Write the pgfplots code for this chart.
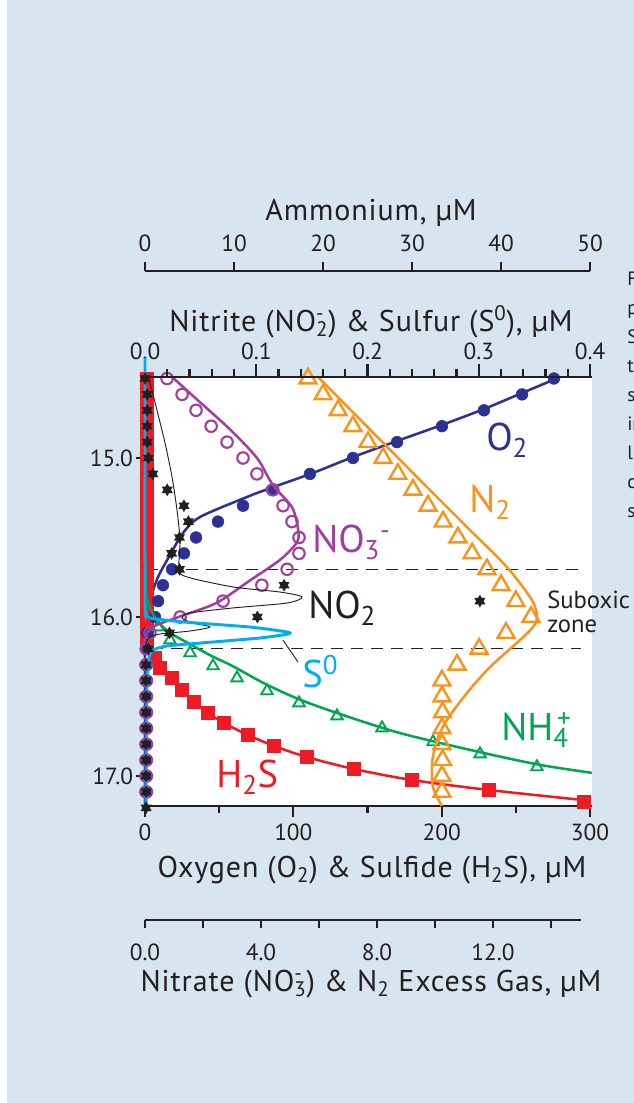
\documentclass[border=0pt]{standalone}
\usepackage{pgfplots}
\pgfplotsset{compat=1.18}
\usepackage{fontspec}
\setmainfont{PT Sans}
\newfontfamily\titlefont[LetterSpace=3]{PT Sans}
\definecolor{bg}{RGB}{215,229,240}
\definecolor{oxy}{RGB}{46,49,146}
\definecolor{nitra}{RGB}{160,64,156}
\definecolor{ntwo}{RGB}{247,148,29}
\definecolor{amm}{RGB}{0,166,81}
\definecolor{sulf}{RGB}{237,28,36}
\definecolor{sulfur}{RGB}{0,174,239}
\definecolor{ink}{RGB}{35,31,32}
\newcommand{\subsup}[2]{\rlap{\textsuperscript{#2}}\textsubscript{#1}}
\pgfdeclareplotmark{hexstar}{%
  \pgfpathmoveto{\pgfpointpolar{90}{\pgfplotmarksize}}%
  \pgfpathlineto{\pgfpointpolar{210}{\pgfplotmarksize}}%
  \pgfpathlineto{\pgfpointpolar{330}{\pgfplotmarksize}}%
  \pgfpathclose
  \pgfpathmoveto{\pgfpointpolar{270}{\pgfplotmarksize}}%
  \pgfpathlineto{\pgfpointpolar{390}{\pgfplotmarksize}}%
  \pgfpathlineto{\pgfpointpolar{510}{\pgfplotmarksize}}%
  \pgfpathclose
  \pgfusepathqfill}
\pgfplotsset{
  panel/.style={scale only axis, width=336.75pt, height=321.75pt,
    at={(107.25pt,-604.5pt)}, anchor=south west,
    ymin=-17.1887, ymax=-14.4906, y filter/.expression={-y}},
  ticklab/.style={tick label style={font=\fontsize{17.5}{20}\selectfont, text=ink},
    /pgf/number format/assume math mode=true},
}
\begin{document}
\begin{tikzpicture}
\begin{scope}[x=0.75pt,y=-0.75pt]
\useasboundingbox (0,0) rectangle (634,1103);
\fill[bg] (0,0) rectangle (634,1103);
\fill[white] (0,0) rectangle (7,1103);
\end{scope}

% ---------- main axis: oxygen & sulfide ----------
\begin{axis}[panel, ticklab,
  xmin=-1.348, xmax=301.35,
  axis background/.style={fill=white},
  axis x line*=bottom, axis y line*=left,
  x axis line style={line width=2.2pt, draw=ink},
  y axis line style={draw=none},
  xtick={0,100,200,300}, minor xtick={50,150,250},
  ytick={-17,-16,-15}, yticklabels={17.0,16.0,15.0},
  tick align=outside,
  major tick length=8pt, minor tick length=5pt,
  xtick style={line width=1.6pt, draw=ink},
  ytick style={line width=1.1pt, draw=ink, /pgfplots/major tick length=5pt},
  xticklabel style={yshift=-2pt},
  yticklabel style={xshift=4pt},
]
\addplot[ink, line width=0.9pt, dash pattern=on 9pt off 6pt] coordinates {(1,15.7) (294,15.7)};
\addplot[ink, line width=0.9pt, dash pattern=on 9pt off 6pt] coordinates {(4,16.2) (294,16.2)};
% H2S at zero (stacked squares)
\addplot[only marks, mark=square*, mark size=4.8pt, draw=sulf, fill=sulf] coordinates {
(1,14.50) (1,14.55) (1,14.60) (1,14.65) (1,14.70) (1,14.75) (1,14.80) (1,14.85) (1,14.90) (1,14.95)
(1,15.00) (1,15.05) (1,15.10) (1,15.15) (1,15.20) (1,15.25) (1,15.30) (1,15.35) (1,15.40) (1,15.45)
(1,15.50) (1,15.55) (1,15.60) (1,15.65) (1,15.70) (1,15.75) (1,15.80) (1,15.85) (1,15.90) (1,15.95)
(1,16.00) (1,16.05) (1,16.10) (1,16.15)};
% H2S line
\addplot[sulf, line width=1.9pt, smooth, no marks] coordinates {
(0,16.12) (2,16.2) (6.7,16.258) (10.1,16.321) (18.2,16.384) (24.9,16.459) (33,16.535) (42.5,16.604)
(53.3,16.667) (69.4,16.742) (87,16.811) (109.2,16.881) (140.9,16.956) (180,17.025) (231.9,17.088) (299.3,17.155)};
% H2S squares
\addplot[only marks, mark=square*, mark size=4.8pt, draw=sulf, fill=sulf] coordinates {
(6.7,16.258) (10.1,16.321) (18.2,16.384) (24.9,16.459) (33,16.535) (42.5,16.604) (53.3,16.667)
(69.4,16.742) (87,16.811) (109.2,16.881) (140.9,16.956) (180,17.025) (231.9,17.088) (296,17.164)};
% O2 line
\addplot[oxy, line width=1.9pt, smooth, no marks] coordinates {
(279.8,14.491) (254.2,14.591) (228.5,14.692) (200.2,14.792) (169.9,14.893) (140.2,14.994) (113.2,15.094)
(82.9,15.195) (68.8,15.245) (37.1,15.371) (25.6,15.472) (16.9,15.610) (8.8,15.748) (3.4,15.893)
(1.3,15.987) (0,16.082) (0,17.19)};
% O2 dots
\addplot[only marks, mark=*, mark size=4.4pt, draw=oxy, fill=oxy] coordinates {
(275.7,14.5) (254.2,14.6) (228.5,14.7) (200.2,14.8) (169.9,14.9) (140.2,15.0) (111.2,15.1) (85.6,15.2)
(66.1,15.3) (49.2,15.4) (34.4,15.5) (26.3,15.6) (18.2,15.7) (12.1,15.8) (8.8,15.9) (6.7,16.0)
(1.5,16.1) (0.5,16.2) (0.3,16.3) (0.3,16.4) (0.3,16.5) (0.3,16.6) (0.3,16.7) (0.3,16.8) (0.3,16.9)
(0.3,17.0) (0.3,17.1) (0.3,17.2)};
\end{axis}

% ---------- ammonium data ----------
\begin{axis}[panel, hide axis, xmin=-0.2247, xmax=50.22]
\addplot[amm, line width=1.9pt, smooth, no marks] coordinates {
(0,15.6) (0.11,15.83) (0.22,15.89) (0.79,15.97) (1.46,16.03) (2.81,16.10) (4.72,16.16) (7.30,16.24)
(9.89,16.31) (13.48,16.42) (17.42,16.52) (21.91,16.61) (28.65,16.73) (37.64,16.85) (44.38,16.93) (50.2,16.98)};
\addplot[only marks, mark=triangle, mark size=5pt, amm, line width=1.4pt] coordinates {
(1.46,16.063) (2.81,16.145) (5.06,16.226) (7.64,16.308) (10.34,16.384) (13.71,16.465) (17.30,16.541)
(21.57,16.623) (26.63,16.698) (32.36,16.786) (37.64,16.862) (44.04,16.943)};
\end{axis}

% ---------- nitrate & N2 data ----------
\begin{axis}[panel, hide axis, xmin=-0.069, xmax=15.414]
\addplot[nitra, line width=1.9pt, smooth, no marks] coordinates {
(0.93,14.49) (1.90,14.65) (2.93,14.82) (3.86,15.0) (4.41,15.17) (5.07,15.31) (5.28,15.45) (5.24,15.53)
(4.66,15.64) (3.62,15.77) (2.48,15.91) (1.31,15.99) (0.41,16.05) (0.07,16.10) (0,16.18)};
\addplot[only marks, mark=o, mark size=4.3pt, nitra, line width=1.6pt] coordinates {
(0.76,14.5) (1.28,14.6) (1.76,14.7) (2.28,14.8) (2.83,14.9) (3.38,15.0) (3.86,15.1) (4.41,15.2)
(4.76,15.3) (5.07,15.4) (5.31,15.5) (5.31,15.6) (4.90,15.7) (4.03,15.8) (2.69,15.9) (1.21,16.0)
(0.17,16.1) (0.05,16.2) (0.05,16.3) (0.05,16.4) (0.05,16.5) (0.05,16.6) (0.05,16.7) (0.05,16.8)
(0.05,16.9) (0.05,17.0) (0.05,17.1) (0.05,17.2)};
\addplot[ntwo, line width=1.9pt, smooth, no marks] coordinates {
(5.97,14.491) (9.24,15.094) (11.10,15.434) (12.48,15.686) (13.34,15.893) (13.52,16.0) (13.38,16.063)
(12.93,16.145) (11.90,16.314) (11.10,16.478) (10.41,16.648) (10.07,16.774) (9.90,16.918) (9.93,17.069) (10.24,17.189)};
\addplot[only marks, mark=triangle, mark size=7.3pt, ntwo, line width=1.8pt] coordinates {
(5.62,14.5) (6.14,14.6) (6.66,14.7) (7.17,14.8) (7.69,14.9) (8.21,15.0) (8.72,15.1) (9.24,15.2)
(9.76,15.3) (10.28,15.4) (10.79,15.5) (11.28,15.6) (11.79,15.7) (12.28,15.8) (12.79,15.9) (13.31,16.0)
(12.45,16.1) (11.52,16.2) (10.76,16.3) (10.24,16.4) (10.24,16.5) (10.26,16.6) (10.24,16.7) (10.24,16.8)
(10.26,16.9) (10.24,17.0) (10.24,17.1) (10.24,17.2)};
\end{axis}

% ---------- nitrite & sulfur (top axis) ----------
\begin{axis}[panel, ticklab, clip=false,
  xmin=-0.0018, xmax=0.4018,
  axis x line*=top, axis y line=none, ytick=\empty,
  x axis line style={line width=2.2pt, draw=ink},
  xtick={0,0.1,0.2,0.3,0.4}, minor x tick num=4,
  tick align=outside, major tick length=9.75pt, minor tick length=6pt,
  xtick style={line width=1.6pt, draw=ink},
  xticklabel style={/pgf/number format/.cd, fixed, fixed zerofill, precision=1},
]
\addplot[ink, line width=0.7pt, smooth, no marks] coordinates {
(0.0027,14.48) (0.0108,14.70) (0.018,14.906) (0.0243,15.12) (0.0288,15.33) (0.0315,15.52) (0.0306,15.70)
(0.0378,15.748) (0.0791,15.811) (0.1213,15.843) (0.1411,15.874) (0.1276,15.912) (0.0791,15.943)
(0.0404,15.975) (0.0333,16.006) (0.0431,16.038) (0.0584,16.063) (0.0404,16.088) (0.0135,16.107)
(0.0045,16.126) (0.0018,16.145) (0,16.21)};
\addplot[only marks, mark=hexstar, mark size=4.8pt, fill=ink, draw=none] coordinates {
(0.000,14.5) (0.002,14.6) (0.002,14.7) (0.002,14.8) (0.002,14.9) (0.003,15.0) (0.007,15.1) (0.020,15.2)
(0.035,15.3) (0.039,15.4) (0.031,15.5) (0.024,15.6) (0.031,15.7) (0.125,15.8) (0.301,15.9) (0.101,16.0)
(0.022,16.1) (0.003,16.2) (0.001,16.3) (0.001,16.4) (0.001,16.5) (0.001,16.6) (0.001,16.7) (0.001,16.8)
(0.001,16.9) (0.001,17.0) (0.001,17.1) (0.001,17.2)};
\addplot[sulfur, line width=2.2pt, smooth, tension=0.35, no marks] coordinates {
(0.0000,14.37) (0.0000,15.89) (0.0009,15.969) (0.0045,16.006) (0.0342,16.031) (0.0944,16.063)
(0.1276,16.094) (0.1285,16.107) (0.1034,16.132) (0.0494,16.164) (0.0198,16.182) (0.0072,16.208)
(0.0036,16.258) (0.0018,16.40) (0.0009,17.22)};
\end{axis}

% ---------- ammonium axis line ----------
\begin{axis}[ticklab, scale only axis, width=333.75pt, height=20pt,
  at={(108.75pt,-203.25pt)}, anchor=north west,
  xmin=0, xmax=50, ymin=0, ymax=1,
  axis x line*=top, axis y line=none, ytick=\empty,
  x axis line style={line width=2.2pt, draw=ink},
  xtick={0,10,20,30,40,50}, tick align=outside, major tick length=6.75pt,
  xtick style={line width=1.6pt, draw=ink},
  xticklabel style={yshift=4.5pt}]
\addplot[draw=none] coordinates {(0,0)};
\end{axis}

% ---------- nitrate axis line ----------
\begin{axis}[ticklab, scale only axis, width=326.9pt, height=20pt,
  at={(108.75pt,-690pt)}, anchor=south west,
  xmin=0, xmax=15.03, ymin=0, ymax=1,
  axis x line*=bottom, axis y line=none, ytick=\empty,
  x axis line style={line width=2.2pt, draw=ink},
  xtick={0,4,8,12}, minor xtick={2,6,10,14},
  tick align=outside, major tick length=6pt, minor tick length=6pt,
  xtick style={line width=1.6pt, draw=ink},
  xticklabel style={yshift=-8pt, /pgf/number format/.cd, fixed, fixed zerofill, precision=1}]
\addplot[draw=none] coordinates {(0,0)};
\end{axis}

\begin{scope}[x=0.75pt,y=-0.75pt, every node/.style={inner sep=0pt, text=ink}]
\node[anchor=base, font=\titlefont\fontsize{22.5}{25}\selectfont] at (371,220) {Ammonium, µM};
\node[anchor=base, font=\titlefont\fontsize{22.5}{25}\selectfont] at (371,331) {Nitrite (NO\subsup{2}{-}) \& Sulfur (S\textsuperscript{0}), µM};
\node[anchor=base, font=\titlefont\fontsize{22.5}{25}\selectfont] at (372,877) {Oxygen (O\textsubscript{2}) \& Sulfide (H\textsubscript{2}S), µM};
\node[anchor=base, font=\titlefont\fontsize{22.5}{25}\selectfont] at (371,991) {Nitrate (NO\subsup{3}{-}) \& N\textsubscript{2} Excess Gas, µM};
% series labels
\node[anchor=base west, font=\fontsize{29}{32}\selectfont, text=oxy] at (486,450) {O\textsubscript{2}};
\node[anchor=base west, font=\fontsize{29}{32}\selectfont, text=ntwo] at (469,512) {N\textsubscript{2}};
\node[anchor=base west, font=\fontsize{29}{32}\selectfont, text=nitra] at (312,552) {NO\textsubscript{3}\textsuperscript{-}};
\node[anchor=base west, font=\fontsize{29}{32}\selectfont] at (308,618) {NO\textsubscript{2}};
\node[anchor=base west, font=\fontsize{29}{32}\selectfont, text=sulfur] at (302,687) {S\textsuperscript{0}};
\node[anchor=base west, font=\fontsize{29}{32}\selectfont, text=amm] at (501,740) {NH\textsubscript{4}\kern-0.3em\textsuperscript{+}};
\node[anchor=base west, font=\fontsize{29}{32}\selectfont, text=sulf] at (216,787) {H\textsubscript{2}S};
\node[anchor=base west, font=\fontsize{18.5}{21}\selectfont] at (547,608) {Suboxic};
\node[anchor=base west, font=\fontsize{18.5}{21}\selectfont] at (547,632) {zone};
\draw[ink, line width=0.7pt] (283,640) -- (298,662);
% cut-off caption text at the right edge
\begin{scope}
\clip (0,0) rectangle (634,1103);
\foreach \t/\yy in {F/285, p/314, S/343, t/372, s/401, in/430, li/459, c/488, s/517}
  \node[anchor=base west, font=\fontsize{14.5}{17}\selectfont] at (627,\yy) {\t};
\end{scope}
\end{scope}
\end{tikzpicture}
\end{document}
